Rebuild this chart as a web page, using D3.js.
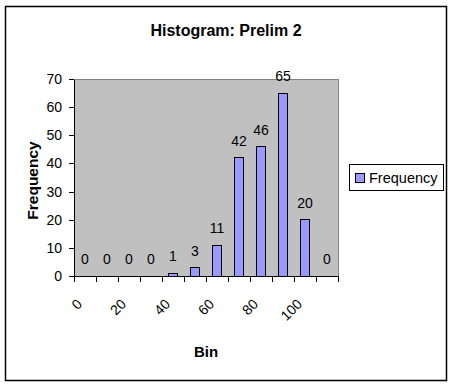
<!DOCTYPE html>
<html>
<head>
<meta charset="utf-8">
<script src="https://cdn.jsdelivr.net/npm/d3@7"></script>
<style>
  body { margin: 0; background: #fff; }
  svg text { font-family: Arial, "Liberation Sans", sans-serif; fill: #000; }
  .axis path, .axis line { stroke: #000; shape-rendering: crispEdges; }
</style>
</head>
<body>
<svg id="chart"></svg>
<script>
// Histogram data (bins and counts)
const bins = ['0', '10', '20', '30', '40', '50', '60', '70', '80', '90', '100', 'More'];
const frequency = [0, 0, 0, 0, 1, 3, 11, 42, 46, 65, 20, 0];
const binLabels = ['0', '20', '40', '60', '80', '100'];
const yTicks = [0, 10, 20, 30, 40, 50, 60, 70];

const width = 454, height = 388;
const plot = {left: 74, top: 79, right: 338, bottom: 276};

const svg = d3.select('#chart')
    .attr('width', width)
    .attr('height', height);

// outer chart border
svg.append('rect')
    .attr('x', 5.5).attr('y', 6.5)
    .attr('width', 441).attr('height', 374)
    .attr('fill', '#fff')
    .attr('stroke', '#000')
    .attr('stroke-width', 1.5);

// scales
const xScale = d3.scaleBand()
    .domain(bins)
    .range([plot.left, plot.right])
    .padding(0);

const idxScale = d3.scaleLinear()
    .domain([0, bins.length])
    .range([plot.left, plot.right]);

const yScale = d3.scaleLinear()
    .domain([0, 70])
    .range([plot.bottom, plot.top]);

// plot area
svg.append('rect')
    .attr('x', plot.left).attr('y', plot.top)
    .attr('width', plot.right - plot.left)
    .attr('height', plot.bottom - plot.top)
    .attr('fill', '#c0c0c0')
    .attr('stroke', '#808080')
    .attr('shape-rendering', 'crispEdges');

// bars
const barW = xScale.bandwidth() * 0.4;
svg.selectAll('.bar')
    .data(bins.map((b, i) => ({bin: b, count: frequency[i]})))
  .join('rect')
    .attr('class', 'bar')
    .attr('x', d => xScale(d.bin) + (xScale.bandwidth() - barW) / 2)
    .attr('width', barW)
    .attr('y', d => yScale(d.count))
    .attr('height', d => yScale(0) - yScale(d.count))
    .attr('fill', '#9999ff')
    .attr('stroke', '#000')
    .attr('shape-rendering', 'crispEdges');

// data labels
svg.selectAll('.val')
    .data(bins.map((b, i) => ({bin: b, count: frequency[i]})))
  .join('text')
    .attr('class', 'val')
    .attr('x', d => xScale(d.bin) + xScale.bandwidth() / 2)
    .attr('y', d => yScale(d.count) - 12)
    .attr('text-anchor', 'middle')
    .style('font-size', '14px')
    .text(d => d.count);

// y axis
const yAxis = d3.axisLeft(yScale)
    .tickValues(yTicks)
    .tickSize(5)
    .tickSizeOuter(0)
    .tickPadding(7);

const yAxisG = svg.append('g')
    .attr('class', 'axis')
    .attr('transform', `translate(${plot.left},0)`)
    .call(yAxis);
yAxisG.selectAll('text').style('font-size', '14px').attr('font-family', null);

// x axis: tick marks on bin boundaries
const xAxis = d3.axisBottom(idxScale)
    .tickValues(d3.range(bins.length + 1))
    .tickFormat('')
    .tickSize(6)
    .tickSizeOuter(0);

svg.append('g')
    .attr('class', 'axis')
    .attr('transform', `translate(0,${plot.bottom})`)
    .call(xAxis);

// rotated bin labels, every other bin
svg.selectAll('.xlab')
    .data(binLabels)
  .join('text')
    .attr('class', 'xlab')
    .attr('text-anchor', 'end')
    .attr('transform', d => `translate(${xScale(d) + xScale.bandwidth() / 2 - 2},${plot.bottom + 29}) rotate(-45)`)
    .style('font-size', '14px')
    .text(d => d);

// title
svg.append('text')
    .attr('x', 226)
    .attr('y', 36)
    .attr('text-anchor', 'middle')
    .style('font-size', '16px')
    .style('font-weight', 'bold')
    .text('Histogram: Prelim 2');

// axis titles
svg.append('text')
    .attr('x', (plot.left + plot.right) / 2)
    .attr('y', 357)
    .attr('text-anchor', 'middle')
    .style('font-size', '15px')
    .style('font-weight', 'bold')
    .text('Bin');

svg.append('text')
    .attr('transform', `translate(38,${(plot.top + plot.bottom) / 2 + 3}) rotate(-90)`)
    .attr('text-anchor', 'middle')
    .style('font-size', '15.5px')
    .style('font-weight', 'bold')
    .text('Frequency');

// legend
const legend = svg.append('g');
legend.append('rect')
    .attr('x', 349.5).attr('y', 164.5)
    .attr('width', 94).attr('height', 26)
    .attr('fill', '#fff')
    .attr('stroke', '#000');
legend.append('rect')
    .attr('x', 355.5).attr('y', 173.5)
    .attr('width', 9).attr('height', 9)
    .attr('fill', '#9999ff')
    .attr('stroke', '#000');
legend.append('text')
    .attr('x', 369)
    .attr('y', 183)
    .style('font-size', '14.5px')
    .text('Frequency');
</script>
</body>
</html>
